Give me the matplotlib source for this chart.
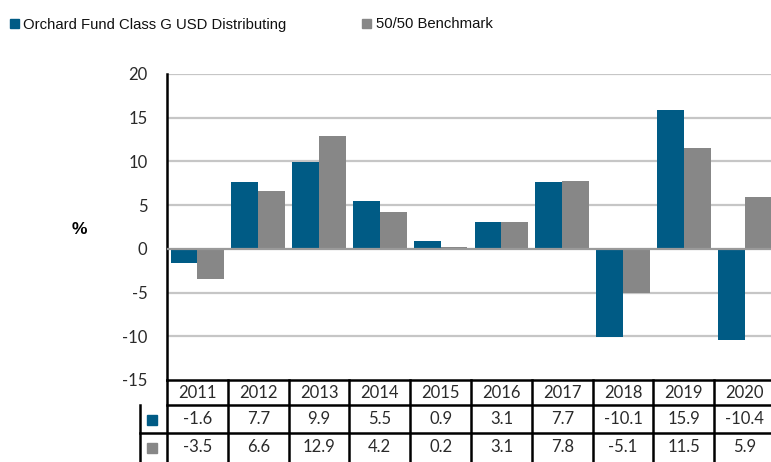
import matplotlib
matplotlib.use("Agg")
import matplotlib.pyplot as plt
import matplotlib.transforms as mtransforms
from matplotlib.patches import Rectangle

years = ["2011", "2012", "2013", "2014", "2015", "2016", "2017", "2018", "2019", "2020"]
fund = [-1.6, 7.7, 9.9, 5.5, 0.9, 3.1, 7.7, -10.1, 15.9, -10.4]
bench = [-3.5, 6.6, 12.9, 4.2, 0.2, 3.1, 7.8, -5.1, 11.5, 5.9]
fund_name = "Orchard Fund Class G USD Distributing"
bench_name = "50/50 Benchmark"
yticks = [-15, -10, -5, 0, 5, 10, 15, 20]

BLUE = "#005b85"
GREY = "#878787"
NUMFONT = "Lato"
TXT = "#2a2a2a"

W, H = 771, 462
fig = plt.figure(figsize=(W / 100, H / 100), dpi=100)

left_px, top_px, bottom_px = 167, 74, 380
cat_w = 60.8
n = len(years)
ax = fig.add_axes([left_px / W, 1 - bottom_px / H, n * cat_w / W, (bottom_px - top_px) / H])
ax_h = bottom_px - top_px

x = list(range(n))
bw = 0.44
ax.bar([i - 0.22 for i in x], fund, width=bw, color=BLUE, zorder=2)
ax.bar([i + 0.22 for i in x], bench, width=bw, color=GREY, zorder=2)

ax.set_xlim(-0.5, n - 0.5)
ax.set_ylim(-15, 20)
ax.set_yticks(yticks)
ax.set_yticklabels([str(v) for v in yticks], fontsize=12, family=NUMFONT, color=TXT)
ax.tick_params(axis="y", length=0, pad=14)
ax.set_xticks([])
for v in yticks:
    if v in (-15, 0):
        continue
    ax.axhline(v, color="#c6c6c6", lw=1.6, zorder=1)
ax.axhline(0, color="#9a9a9a", lw=1.6, zorder=3)

for s in ["top", "right"]:
    ax.spines[s].set_visible(False)
ax.spines["left"].set_linewidth(1.8)
ax.spines["bottom"].set_linewidth(1.8)

# "%" label
fig.text(79 / W, 1 - 229 / H, "%", fontsize=12.5, fontweight="bold", family="Liberation Sans",
         ha="center", va="center")

# Table below
tr = mtransforms.blended_transform_factory(ax.transData, ax.transAxes)
y_hdr = -25 / ax_h
y_r1 = -53 / ax_h
y_r2 = -90 / ax_h
x_icon = -0.5 - 27 / cat_w
lk = dict(color="black", lw=1.8, transform=tr, clip_on=False, zorder=5)

ax.plot([-0.5, n - 0.5], [y_hdr, y_hdr], **lk)
ax.plot([x_icon, n - 0.5], [y_r1, y_r1], **lk)
ax.plot([-0.5, -0.5], [0, y_r2], **lk)
ax.plot([x_icon, x_icon], [y_hdr, y_r2], **lk)
for i in range(1, n + 1):
    ax.plot([i - 0.5, i - 0.5], [0, y_r2], **lk)

for i, yr in enumerate(years):
    ax.text(i, y_hdr / 2, yr, transform=tr, ha="center", va="center", fontsize=12,
            family=NUMFONT, color=TXT, clip_on=False)
    ax.text(i, (y_hdr + y_r1) / 2, f"{fund[i]:.1f}", transform=tr, ha="center", va="center",
            fontsize=12, family=NUMFONT, color=TXT, clip_on=False)
    ax.text(i, (y_r1 - 29 / ax_h + y_r1) / 2, f"{bench[i]:.1f}", transform=tr, ha="center",
            va="center", fontsize=12, family=NUMFONT, color=TXT, clip_on=False)

# Table icons
sq = 10
fig.patches.append(Rectangle((147 / W, 1 - 425 / H), sq / W, sq / H, color=BLUE,
                             transform=fig.transFigure, figure=fig))
fig.patches.append(Rectangle((147 / W, 1 - 453 / H), sq / W, sq / H, color=GREY,
                             transform=fig.transFigure, figure=fig))

# Legend
fig.patches.append(Rectangle((9.5 / W, 1 - 28 / H), 9 / W, 9 / H, color=BLUE,
                             transform=fig.transFigure, figure=fig))
fig.text(23 / W, 1 - 24.5 / H, fund_name, fontsize=10.7, family="Liberation Sans",
         va="center", ha="left", color="#111111")
fig.patches.append(Rectangle((362 / W, 1 - 28 / H), 9 / W, 9 / H, color=GREY,
                             transform=fig.transFigure, figure=fig))
fig.text(376 / W, 1 - 24.5 / H, bench_name, fontsize=10.7, family="Liberation Sans",
         va="center", ha="left", color="#111111")

fig.savefig("out.png", dpi=100)
